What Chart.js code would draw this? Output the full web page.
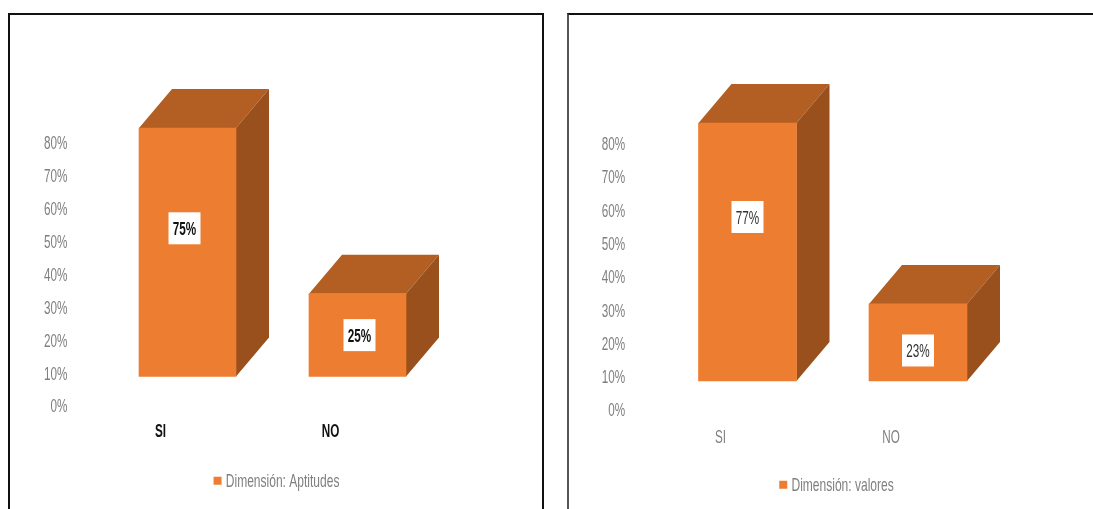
<!DOCTYPE html>
<html>
<head>
<meta charset="utf-8">
<style>
    html, body { margin: 0; padding: 0; background: #fff; overflow: hidden; width: 1093px; height: 509px; }
    .frame { position: absolute; top: 13px; height: 500px; border: 2px solid #111; box-sizing: border-box; }
    canvas { position: absolute; top: 0; }
</style>
<script src="https://cdn.jsdelivr.net/npm/chart.js@4/dist/chart.umd.min.js"></script>
</head>
<body>
<div class="frame" style="left:8px;width:536px;"></div>
<div class="frame" style="left:567px;width:560px;border-left-color:#555;"></div>
<canvas id="chartAptitudes" style="left:0;width:558px;height:509px;" width="558" height="509"></canvas>
<canvas id="chartValores" style="left:581px;width:516px;height:509px;" width="516" height="509"></canvas>
<script>
const categories = ['SI', 'NO'];
const aptitudesValues = [75, 25];
const valoresValues = [77, 23];
const axisMax = 80;
const axisStep = 10;

const FONT = '"Liberation Sans", sans-serif';
const ORANGE = '#ED7D31';
const TOP_FACE = '#B35E22';
const SIDE_FACE = '#99501C';
const SQUEEZE = 0.65; // the original font is tall and narrow, no such font here
const LEGEND_GAP_FIX = 5;

// Narrow every text drawn on this canvas, measuring included so layout stays right
function narrowText(canvas) {
    const ctx = canvas.getContext('2d');
    const fill = ctx.fillText.bind(ctx);
    const measure = ctx.measureText.bind(ctx);
    ctx.fillText = function(text, x, y) {
        ctx.save();
        ctx.translate(ctx.textAlign === 'left' ? x - LEGEND_GAP_FIX : x, y + 1);
        ctx.scale(SQUEEZE, 1);
        fill(text, 0, 0);
        ctx.restore();
    };
    ctx.measureText = function(text) {
        return { width: measure(text).width * SQUEEZE };
    };
    return canvas;
}

// Draws the top and side of each bar, Chart.js only has the flat front
const bar3d = {
    id: 'bar3d',
    beforeDatasetsDraw(chart, args, opts) {
        const c = chart.ctx;
        chart.getDatasetMeta(0).data.forEach(bar => {
            const left = bar.x - bar.width / 2;
            const right = bar.x + bar.width / 2;
            c.fillStyle = TOP_FACE;
            c.beginPath();
            c.moveTo(left, bar.y);
            c.lineTo(left + opts.dx, bar.y - opts.dy);
            c.lineTo(right + opts.dx, bar.y - opts.dy);
            c.lineTo(right, bar.y);
            c.closePath();
            c.fill();
            c.fillStyle = SIDE_FACE;
            c.beginPath();
            c.moveTo(right, bar.y);
            c.lineTo(right + opts.dx, bar.y - opts.dy);
            c.lineTo(right + opts.dx, bar.base - opts.dy);
            c.lineTo(right, bar.base);
            c.closePath();
            c.fill();
        });
    }
};

// White label boxes, they sit where they were dragged to in the original
const boxLabels = {
    id: 'boxLabels',
    afterDatasetsDraw(chart, args, opts) {
        const c = chart.ctx;
        const values = chart.data.datasets[0].data;
        chart.getDatasetMeta(0).data.forEach((bar, i) => {
            const cx = bar.x + opts.shift[i][0];
            const cy = (bar.y + bar.base) / 2 + opts.shift[i][1];
            c.fillStyle = '#fff';
            c.fillRect(cx - 16, cy - 16, 32, 32);
            c.fillStyle = opts.color;
            c.font = opts.font;
            c.textAlign = 'center';
            c.textBaseline = 'middle';
            c.fillText(values[i] + '%', cx, cy + 1);
        });
    }
};

function buildChart(id, label, values, cfg) {
    return new Chart(narrowText(document.getElementById(id)), {
        type: 'bar',
        data: {
            labels: categories,
            datasets: [{
                label: label,
                data: values,
                backgroundColor: ORANGE,
                barThickness: cfg.barWidth,
                yAxisID: 'y2',
                clip: false
            }]
        },
        options: {
            responsive: false,
            animation: false,
            layout: { padding: { top: cfg.top, bottom: cfg.bottom, left: 0, right: 0 } },
            plugins: {
                tooltip: { enabled: false },
                legend: {
                    position: 'bottom',
                    labels: {
                        usePointStyle: true,
                        pointStyle: 'rect',
                        boxWidth: 8,
                        boxHeight: 8,
                        padding: 10,
                        color: '#7f7f7f',
                        font: { family: FONT, size: 18.5 }
                    }
                },
                bar3d: { dx: 33, dy: 39 },
                boxLabels: { shift: cfg.labelShift, color: cfg.labelColor, font: cfg.labelFont }
            },
            scales: {
                x: {
                    grid: { display: false, drawTicks: false },
                    border: { display: false },
                    afterFit: s => { s.height = cfg.xHeight; },
                    ticks: {
                        padding: cfg.xPad,
                        labelOffset: -27,
                        color: cfg.catColor,
                        font: { family: FONT, size: 18, weight: cfg.catWeight }
                    }
                },
                y: {
                    min: 0,
                    max: axisMax,
                    grid: { display: false, drawTicks: false },
                    border: { display: false },
                    afterFit: s => { s.width = cfg.yWidth; },
                    ticks: {
                        stepSize: axisStep,
                        padding: cfg.yPad,
                        color: '#7f7f7f',
                        font: { family: FONT, size: 18 },
                        callback: v => v + '%'
                    }
                },
                // the bars float above the axis in the original, so they get a shifted scale
                y2: {
                    position: 'right',
                    min: cfg.barMin,
                    max: cfg.barMax,
                    grid: { display: false, drawTicks: false },
                    border: { display: false },
                    ticks: { display: false },
                    afterFit: s => { s.width = cfg.rightGap; }
                }
            }
        },
        plugins: [bar3d, boxLabels]
    });
}

buildChart('chartAptitudes', 'Dimensión: Aptitudes', aptitudesValues, {
    top: 143, bottom: 9, xHeight: 55, xPad: 14, yWidth: 102.5, yPad: 35, rightGap: 115.5,
    barWidth: 97, barMin: -9.04, barMax: 70.48,
    labelShift: [[-3, -24], [2, 0]],
    labelColor: '#111', labelFont: 'bold 18px ' + FONT,
    catColor: '#111', catWeight: 'bold'
});

buildChart('chartValores', 'Dimensión: valores', valoresValues, {
    top: 144, bottom: 5, xHeight: 55, xPad: 16, yWidth: 81.25, yPad: 37, rightGap: 93.75,
    barWidth: 98, barMin: -8.8, barMax: 70.73,
    labelShift: [[0, -35], [0, 8]],
    labelColor: '#333', labelFont: '18px ' + FONT,
    catColor: '#7f7f7f', catWeight: 'normal'
});
</script>
</body>
</html>
